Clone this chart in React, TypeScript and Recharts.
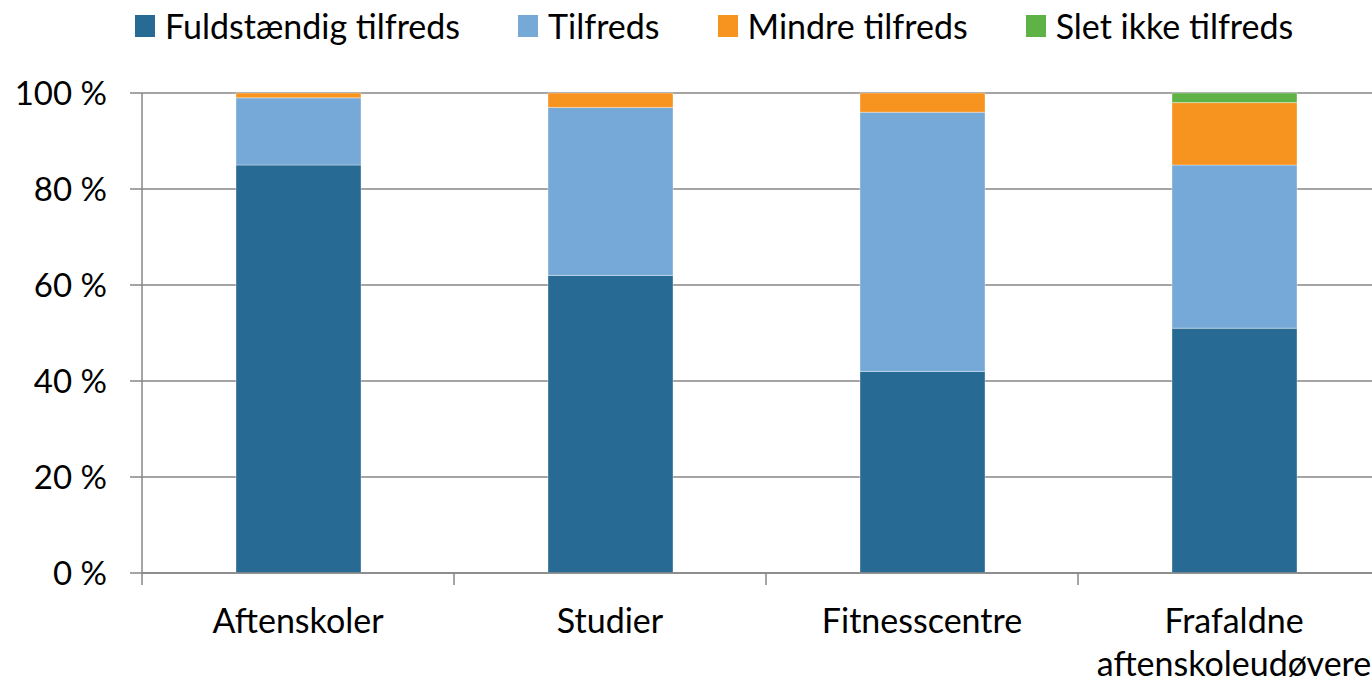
import { Bar, BarChart, CartesianGrid, XAxis, YAxis } from "recharts";

const categories = ["Aftenskoler", "Studier", "Fitnesscentre", "Frafaldne aftenskoleudøvere"];
const fuldstaendig = [85, 62, 42, 51];
const tilfreds = [14, 35, 54, 34];
const mindre = [1, 3, 4, 13];
const sletIkke = [0, 0, 0, 2];
const yTicks = [0, 20, 40, 60, 80, 100];

const series = [
  { key: "fuld", name: "Fuldstændig tilfreds", color: "#276a93", values: fuldstaendig },
  { key: "tilf", name: "Tilfreds", color: "#76a9d7", values: tilfreds },
  { key: "mindre", name: "Mindre tilfreds", color: "#f7941f", values: mindre },
  { key: "slet", name: "Slet ikke tilfreds", color: "#5eb246", values: sletIkke },
];

const data = categories.map((name, i) => {
  const row: Record<string, string | number> = { name };
  series.forEach((s) => (row[s.key] = s.values[i]));
  return row;
});

const CHART_W = 1390;
const CHART_H = 684;
const Y_W = 142;
const FONT = "Lato, 'Open Sans', sans-serif";
const AXIS = "#878787";
const band = (CHART_W - Y_W) / categories.length;

// category label under the band, plus an Excel-style tick at the band's left edge
function CategoryTick(props: any) {
  const { x, y, payload } = props;
  const words = String(payload.value).split(" ");
  const left = x - band / 2;
  return (
    <g>
      <line x1={left} x2={left} y1={y} y2={y + 12} stroke={AXIS} strokeWidth={1.5} />
      <text x={x} y={y} textAnchor="middle" fill="#000" fontSize={34} fontFamily={FONT}>
        {words.map((w, i) => (
          <tspan key={i} x={x} dy={i === 0 ? 60 : 43}>
            {w}
          </tspan>
        ))}
      </text>
    </g>
  );
}

function LegendRow() {
  return (
    <div
      style={{
        position: "absolute",
        top: 5,
        left: 135,
        display: "flex",
        alignItems: "center",
        fontFamily: FONT,
        fontSize: 34,
        lineHeight: "42px",
        color: "#000",
        whiteSpace: "nowrap",
      }}
    >
      {series.map((s) => (
        <div key={s.key} style={{ display: "flex", alignItems: "center", marginRight: 58 }}>
          <span style={{ width: 20, height: 22, background: s.color, marginRight: 10 }} />
          <span>{s.name}</span>
        </div>
      ))}
    </div>
  );
}

export default function App() {
  return (
    <div
      style={{
        position: "fixed",
        top: 0,
        left: 0,
        width: 1372,
        height: 684,
        overflow: "hidden",
        background: "#fff",
      }}
    >
      <LegendRow />
      <BarChart
        width={CHART_W}
        height={CHART_H}
        data={data}
        margin={{ top: 93, right: 0, left: 0, bottom: 0 }}
        barCategoryGap={0}
      >
        <CartesianGrid vertical={false} stroke={AXIS} strokeWidth={1.5} />
        <XAxis
          dataKey="name"
          height={CHART_H - 573}
          tickLine={false}
          tickSize={0}
          tickMargin={0}
          interval={0}
          axisLine={{ stroke: AXIS, strokeWidth: 1.5 }}
          tick={<CategoryTick />}
        />
        <YAxis
          width={Y_W}
          domain={[0, 100]}
          ticks={yTicks}
          interval={0}
          tickSize={12}
          tickMargin={23}
          tickFormatter={(v) => `${v} %`}
          tick={{ fill: "#000", fontSize: 33, fontFamily: FONT }}
          tickLine={{ stroke: AXIS, strokeWidth: 1.5 }}
          axisLine={{ stroke: AXIS, strokeWidth: 1.5 }}
        />
        {series.map((s) => (
          <Bar
            key={s.key}
            dataKey={s.key}
            name={s.name}
            stackId="a"
            fill={s.color}
            barSize={125}
            stroke="rgba(255,255,255,0.35)"
            strokeWidth={1}
            isAnimationActive={false}
          />
        ))}
      </BarChart>
    </div>
  );
}
